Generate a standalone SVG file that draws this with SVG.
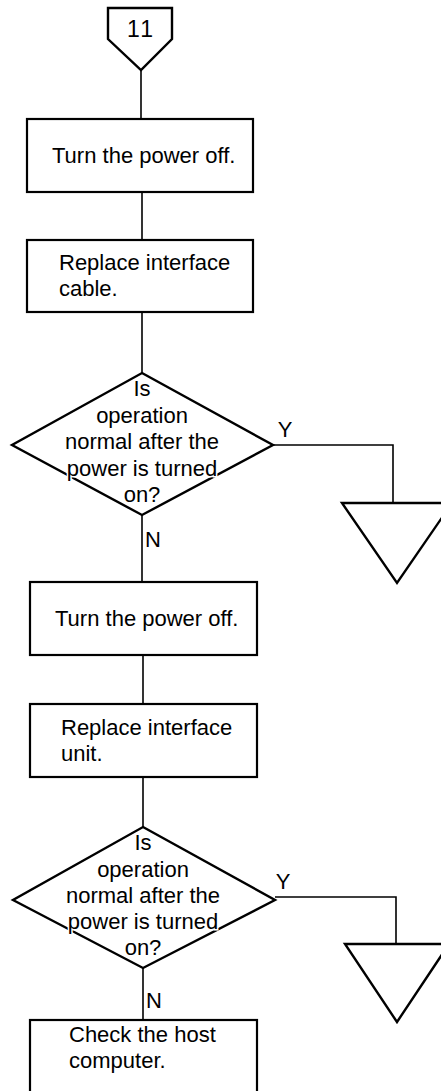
<svg xmlns="http://www.w3.org/2000/svg" width="441" height="1091" viewBox="0 0 441 1091">
<style>
.bg{fill:#fff}
.box{fill:#fff;stroke:#000;stroke-width:2.2}
.con{fill:none;stroke:#000;stroke-width:1.6}
.sym{fill:#fff;stroke:#000;stroke-width:2.4;stroke-linejoin:miter}
text{font-family:"Liberation Sans",Arial,sans-serif;font-size:22px;fill:#000}
.c{text-anchor:middle}
.dt{text-anchor:middle;stroke:#fff;stroke-width:3;paint-order:stroke}
</style>
<rect class="bg" x="0" y="0" width="441" height="1091"/>
<g id="connectors">
<line class="con" x1="141" y1="70" x2="141" y2="119"/>
<line class="con" x1="142" y1="192" x2="142" y2="240"/>
<line class="con" x1="142" y1="312" x2="142" y2="373"/>
<line class="con" x1="142" y1="515" x2="142" y2="582"/>
<polyline class="con" points="273,445 393,445 393,503"/>
<line class="con" x1="143" y1="655" x2="143" y2="704"/>
<line class="con" x1="143" y1="777" x2="143" y2="827"/>
<line class="con" x1="143" y1="968" x2="143" y2="1020"/>
<polyline class="con" points="275,897 396,897 396,944"/>
<text x="285" y="437" class="c">Y</text>
<text x="153" y="547" class="c">N</text>
<text x="283" y="889" class="c">Y</text>
<text x="154" y="1008" class="c">N</text>
</g>
<g id="start11">
<polygon class="sym" points="108,8 172,8 172,39 141,70 108,39"/>
<text x="141" y="37" class="c" style="font-size:23px;letter-spacing:2px">11</text>
</g>
<g id="box1">
<rect class="box" x="27" y="119" width="226" height="73"/>
<text x="52" y="163">Turn the power off.</text>
</g>
<g id="box2">
<rect class="box" x="27" y="240" width="226" height="72"/>
<text x="59" y="270">Replace interface</text>
<text x="59" y="296">cable.</text>
</g>
<g id="decision1">
<polygon class="sym" points="142,373 273,445 142,515 12,445"/>
<text x="142" y="396" class="dt">Is</text>
<text x="142" y="423" class="dt">operation</text>
<text x="142" y="449" class="dt">normal after the</text>
<text x="142" y="476" class="dt">power is turned</text>
<text x="142" y="502" class="dt">on?</text>
</g>
<g id="off1">
<polygon class="sym" points="342,503 452,503 397,583"/>
</g>
<g id="box3">
<rect class="box" x="30" y="582" width="227" height="73"/>
<text x="55" y="626">Turn the power off.</text>
</g>
<g id="box4">
<rect class="box" x="30" y="704" width="227" height="73"/>
<text x="61" y="735">Replace interface</text>
<text x="61" y="761">unit.</text>
</g>
<g id="decision2">
<polygon class="sym" points="143,827 275,900 143,968 13,900"/>
<text x="143" y="850" class="dt">Is</text>
<text x="143" y="877" class="dt">operation</text>
<text x="143" y="903" class="dt">normal after the</text>
<text x="143" y="929" class="dt">power is turned</text>
<text x="143" y="955" class="dt">on?</text>
</g>
<g id="off2">
<polygon class="sym" points="345,944 449,944 397,1022"/>
</g>
<g id="box5">
<rect class="box" x="30" y="1020" width="227" height="90"/>
<text x="69" y="1042">Check the host</text>
<text x="69" y="1068">computer.</text>
</g>
</svg>
